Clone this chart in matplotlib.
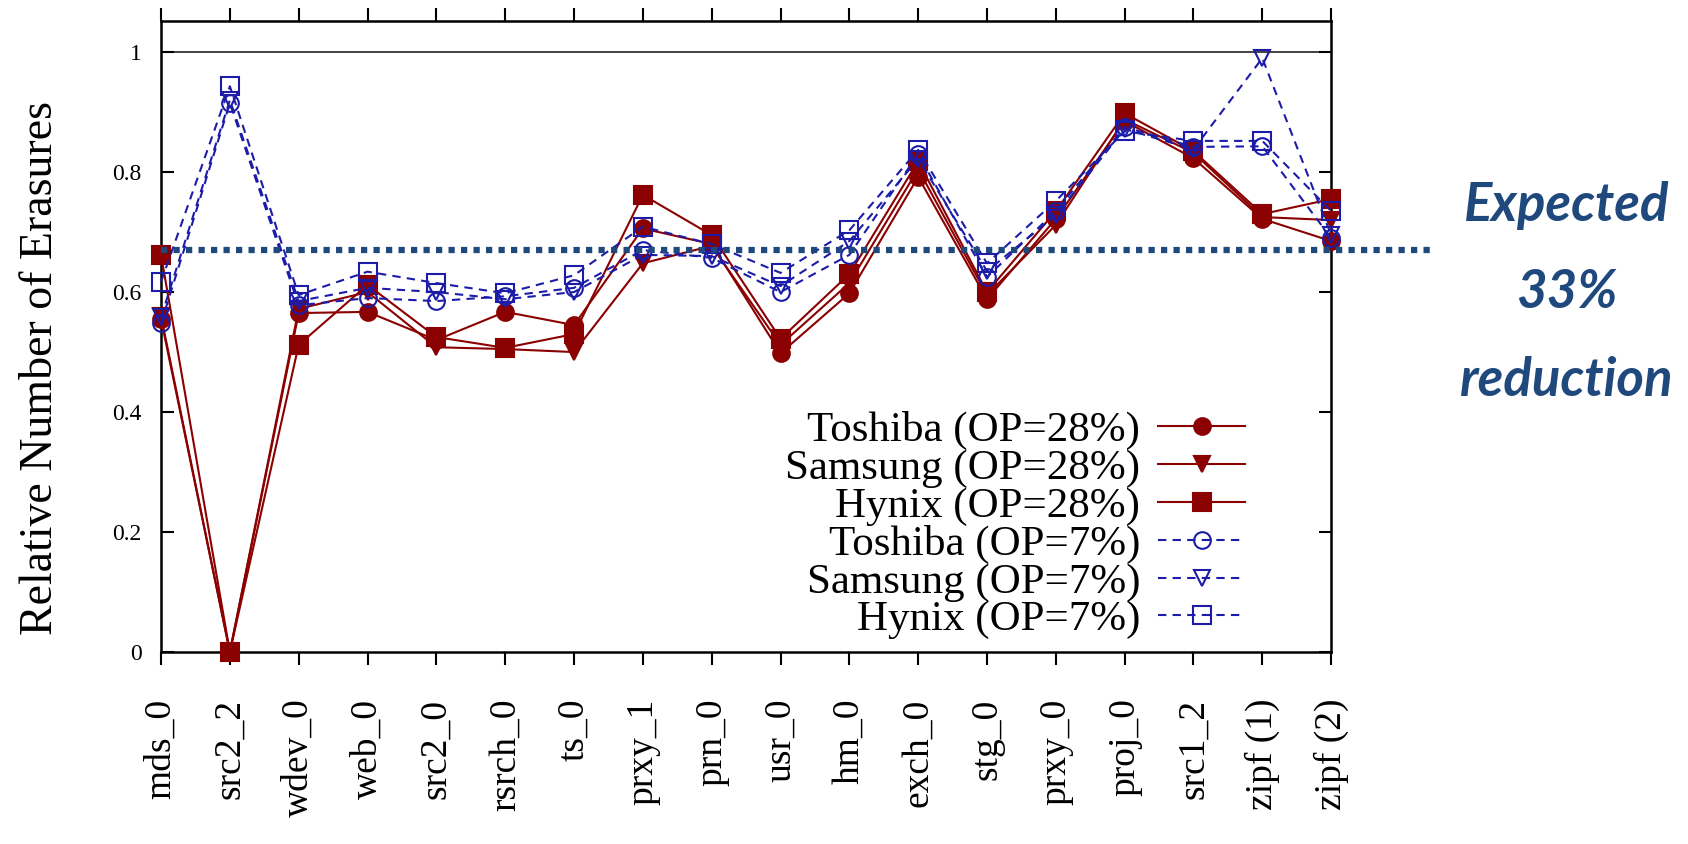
import matplotlib
matplotlib.use('Agg')
import matplotlib.pyplot as plt

traces = ['mds_0', 'src2_2', 'wdev_0', 'web_0', 'src2_0', 'rsrch_0', 'ts_0',
          'prxy_1', 'prn_0', 'usr_0', 'hm_0', 'exch_0', 'stg_0', 'prxy_0',
          'proj_0', 'src1_2', 'zipf (1)', 'zipf (2)']

toshiba_28 = [0.555, 0.0, 0.565, 0.567, 0.520, 0.567, 0.545, 0.706, 0.680, 0.498,
              0.598, 0.792, 0.588, 0.722, 0.885, 0.823, 0.722, 0.685]
samsung_28 = [0.560, 0.0, 0.572, 0.600, 0.508, 0.505, 0.500, 0.648, 0.677, 0.512,
              0.615, 0.805, 0.595, 0.712, 0.888, 0.832, 0.725, 0.720]
hynix_28 = [0.662, 0.0, 0.512, 0.612, 0.525, 0.507, 0.530, 0.762, 0.695, 0.522,
            0.630, 0.818, 0.600, 0.735, 0.898, 0.835, 0.730, 0.755]
toshiba_7 = [0.548, 0.915, 0.578, 0.590, 0.585, 0.593, 0.607, 0.670, 0.657, 0.600,
             0.662, 0.830, 0.625, 0.735, 0.875, 0.842, 0.843, 0.690]
samsung_7 = [0.558, 0.920, 0.585, 0.607, 0.600, 0.588, 0.600, 0.662, 0.660, 0.610,
             0.685, 0.822, 0.635, 0.728, 0.872, 0.838, 0.990, 0.695]
hynix_7 = [0.617, 0.943, 0.595, 0.634, 0.615, 0.598, 0.628, 0.709, 0.680, 0.632,
           0.703, 0.837, 0.648, 0.752, 0.868, 0.852, 0.852, 0.735]

expected = 0.67

red = '#8b0000'
blue = '#1c1ca8'
navy = '#1f497d'

fig = plt.figure(figsize=(16.88, 8.44), dpi=100)
ax = fig.add_axes([0.0954, 0.2275, 0.6932, 0.7477])

x = list(range(len(traces)))
series = [
    (toshiba_28, 'Toshiba (OP=28%)', red, '-', 'o', True),
    (samsung_28, 'Samsung (OP=28%)', red, '-', 'v', True),
    (hynix_28, 'Hynix (OP=28%)', red, '-', 's', True),
    (toshiba_7, 'Toshiba (OP=7%)', blue, '--', 'o', False),
    (samsung_7, 'Samsung (OP=7%)', blue, '--', 'v', False),
    (hynix_7, 'Hynix (OP=7%)', blue, '--', 's', False),
]

for vals, lab, c, ls, mk, filled in series:
    ms = 13 if mk == 's' else 12
    ln, = ax.plot(x, vals, color=c, ls=ls, lw=1.5, marker=mk, ms=ms,
                  mfc=c if filled else 'none', mec=c, mew=1.5,
                  label=lab, clip_on=False, zorder=3)
    if ls == '--':
        ln.set_dashes((4, 3))

ax.axhline(1.0, color='#333333', lw=1.3, zorder=1)
# expected 33% reduction line, runs past the right axis
ax.axhline(expected, xmin=0, xmax=1.09, color=navy, lw=4.5,
           dashes=(1, 1), dash_capstyle='butt', clip_on=False, zorder=4)

ax.set_xlim(0, 17)
ax.set_ylim(0, 1.052)
ax.set_xticks(x)
ax.set_xticklabels(traces, rotation=90, fontsize=27, family='Liberation Serif')
ax.set_yticks([0, 0.2, 0.4, 0.6, 0.8, 1.0])
ax.set_yticklabels(['0', '0.2', '0.4', '0.6', '0.8', '1'], fontsize=17,
                   family='Liberation Serif')
ax.tick_params(axis='x', direction='out', top=True, bottom=True, length=9.5,
               width=1.5, pad=24)
ax.tick_params(axis='y', direction='in', left=True, right=True, length=9,
               width=1.5, pad=14)
for sp in ax.spines.values():
    sp.set_linewidth(1.8)

fig.text(41 / 1688, 1 - 368 / 844, 'Relative Number of Erasures', rotation=90,
         ha='center', va='center', fontsize=33, family='Liberation Serif')

leg = ax.legend(loc='upper right', bbox_to_anchor=(0.926, 0.382), frameon=False,
                markerfirst=False, prop={'family': 'Liberation Serif', 'size': 31},
                handlelength=2.0, handletextpad=0.42, labelspacing=-0.03,
                borderpad=0, borderaxespad=0)

fig.text(1567 / 1688, 1 - 293 / 844, 'Expected\n33%\nreduction', ha='center',
         va='center', fontsize=38, color=navy, family='Lato', weight='bold',
         style='italic', linespacing=1.95)

fig.savefig('out.png', dpi=100)
